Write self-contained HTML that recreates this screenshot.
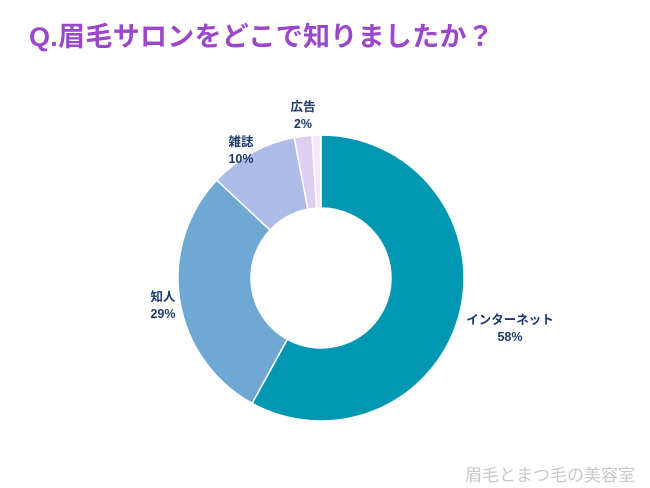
<!DOCTYPE html>
<html><head><meta charset="utf-8"><style>
body{margin:0;width:650px;height:488px;background:#fff;overflow:hidden;font-family:"Liberation Sans","Noto Sans CJK JP",sans-serif}
#title{position:absolute;left:29px;top:15px;font-size:27px;font-weight:bold;color:#9a47c9;letter-spacing:0.3px;white-space:nowrap}
#wm{position:absolute;left:465px;top:461px;font-size:17px;color:#c8c8c8;white-space:nowrap}
svg{position:absolute;left:0;top:0}
</style></head><body>
<div id="title">Q.眉毛サロンをどこで知りましたか？</div>
<div id="wm">眉毛とまつ毛の美容室</div>
<svg id="chart" width="650" height="488"></svg>
<script>
const categories=["インターネット","知人","雑誌","広告","その他"];
const values=[58,29,10,2,1];
const labels=["58%","29%","10%","2%",""];
const colors=["#0097b2","#6fa9d3","#adbbe7","#dccff2","#f3e8f8"];
const cx=321,cy=278,R=143,r=70;
const svg=document.getElementById('chart');
const NS="http://www.w3.org/2000/svg";
const total=values.reduce((a,b)=>a+b,0);
function pt(a,rad){return [cx+rad*Math.sin(a),cy-rad*Math.cos(a)];}
let acc=0;
const labelPos=[[510,324],[163,301],[241,146],[303,111],null];
values.forEach((v,i)=>{
  const a0=acc/total*2*Math.PI,a1=(acc+v)/total*2*Math.PI;acc+=v;
  const large=a1-a0>Math.PI?1:0;
  const [x0,y0]=pt(a0,R),[x1,y1]=pt(a1,R),[x2,y2]=pt(a1,r),[x3,y3]=pt(a0,r);
  const p=document.createElementNS(NS,'path');
  p.setAttribute('d',`M${x0},${y0}A${R},${R} 0 ${large} 1 ${x1},${y1}L${x2},${y2}A${r},${r} 0 ${large} 0 ${x3},${y3}Z`);
  p.setAttribute('fill',colors[i]);p.setAttribute('stroke','#fff');p.setAttribute('stroke-width','1.5');
  
  
  svg.appendChild(p);
  if(labelPos[i]){
    const [lx,ly]=labelPos[i];
    const t=document.createElementNS(NS,'text');
    t.setAttribute('y',ly);t.setAttribute('text-anchor','middle');
    t.setAttribute('font-size','12.5');t.setAttribute('font-weight','bold');t.setAttribute('fill','#1e3a6d');
    t.setAttribute('font-family','"Liberation Sans","Noto Sans CJK JP",sans-serif');
    t.innerHTML=`<tspan x="${lx}">${categories[i]}</tspan><tspan x="${lx}" dy="17">${labels[i]}</tspan>`;
    
    
    svg.appendChild(t);
  }
});
</script>
</body></html>
